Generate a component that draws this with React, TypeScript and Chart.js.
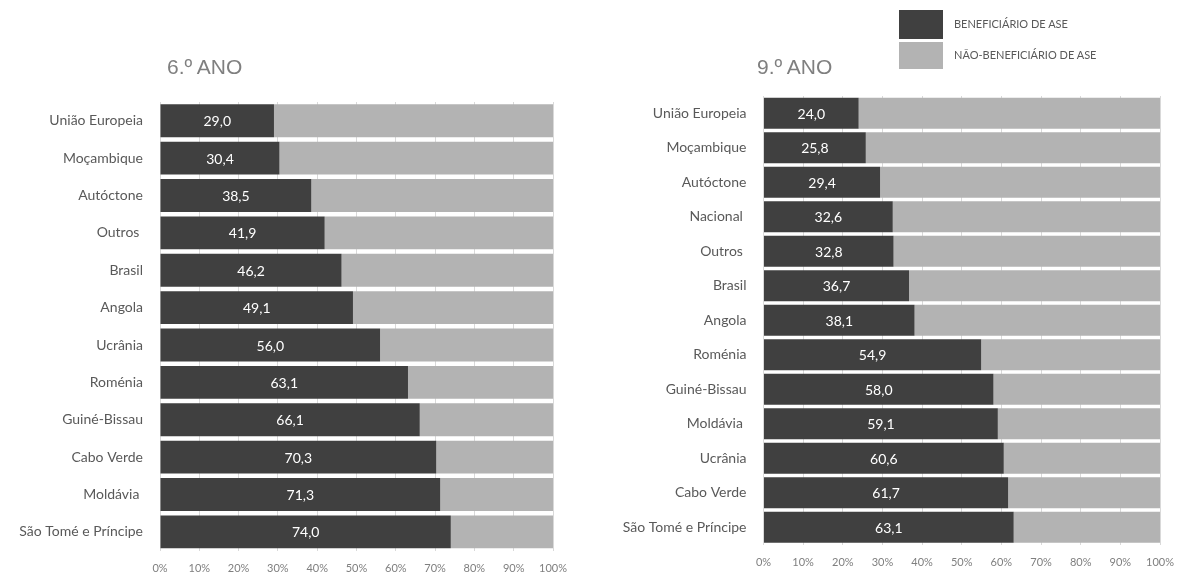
import React, { useEffect, useRef } from "react";
import { Chart, registerables } from "chart.js";

Chart.register(...registerables);

// ---------- DATA ----------
const categories6 = [
  "União Europeia",
  "Moçambique",
  "Autóctone",
  "Outros ",
  "Brasil",
  "Angola",
  "Ucrânia",
  "Roménia",
  "Guiné-Bissau",
  "Cabo Verde",
  "Moldávia ",
  "São Tomé e Príncipe",
];
const beneficiario6 = [29.0, 30.4, 38.5, 41.9, 46.2, 49.1, 56.0, 63.1, 66.1, 70.3, 71.3, 74.0];
const naoBeneficiario6 = [71.0, 69.6, 61.5, 58.1, 53.8, 50.9, 44.0, 36.9, 33.9, 29.7, 28.7, 26.0];

const categories9 = [
  "União Europeia",
  "Moçambique",
  "Autóctone",
  "Nacional ",
  "Outros ",
  "Brasil",
  "Angola",
  "Roménia",
  "Guiné-Bissau",
  "Moldávia ",
  "Ucrânia",
  "Cabo Verde",
  "São Tomé e Príncipe",
];
const beneficiario9 = [24.0, 25.8, 29.4, 32.6, 32.8, 36.7, 38.1, 54.9, 58.0, 59.1, 60.6, 61.7, 63.1];
const naoBeneficiario9 = [76.0, 74.2, 70.6, 67.4, 67.2, 63.3, 61.9, 45.1, 42.0, 40.9, 39.4, 38.3, 36.9];

const seriesNames = ["BENEFICIÁRIO DE ASE", "NÃO-BENEFICIÁRIO DE ASE"];
const panelTitles = ["6.º ANO", "9.º ANO"];

// ---------- STYLE ----------
const DARK = "#404040";
const LIGHT = "#b3b3b3";
const GRID = "#d9d9d9";
const FONT = "Lato, 'Open Sans', sans-serif";
const XH = 24;

const valueLabels = {
  id: "valueLabels",
  afterDatasetsDraw(chart: any) {
    const ctx = chart.ctx;
    const meta = chart.getDatasetMeta(0);
    const data = chart.data.datasets[0].data as number[];
    ctx.save();
    ctx.font = `14px ${FONT}`;
    ctx.fillStyle = "#ffffff";
    ctx.textAlign = "center";
    ctx.textBaseline = "middle";
    meta.data.forEach((bar: any, i: number) => {
      const p = bar.getProps(["x", "y", "base"], true);
      ctx.fillText(data[i].toFixed(1).replace(".", ","), (p.x + p.base) / 2, p.y + 1);
    });
    ctx.restore();
  },
};

type PanelProps = {
  labels: string[];
  benef: number[];
  nao: number[];
  left: number;
  width: number;
  top: number;
  bottom: number;
  plotLeft: number;
  plotRight: number;
  barPct: number;
};

function Panel({ labels, benef, nao, left, width, top, bottom, plotLeft, plotRight, barPct }: PanelProps) {
  const ref = useRef<HTMLCanvasElement>(null);
  useEffect(() => {
    if (!ref.current) return;
    const chart = new Chart(ref.current, {
      type: "bar",
      data: {
        labels,
        datasets: [
          {
            label: seriesNames[0],
            data: benef,
            backgroundColor: DARK,
            barPercentage: barPct,
            categoryPercentage: 1,
          },
          {
            label: seriesNames[1],
            data: nao,
            backgroundColor: LIGHT,
            barPercentage: barPct,
            categoryPercentage: 1,
          },
        ],
      },
      options: {
        indexAxis: "y",
        responsive: false,
        maintainAspectRatio: false,
        animation: false,
        layout: {
          padding: { top, right: left + width - plotRight, left: 0, bottom: 576 - bottom - XH },
        },
        plugins: {
          legend: { display: false },
          tooltip: { enabled: false },
          title: { display: false },
        },
        scales: {
          x: {
            stacked: true,
            min: 0,
            max: 100,
            grid: { color: GRID, lineWidth: 1, drawTicks: false },
            border: { display: false },
            ticks: {
              stepSize: 10,
              callback: (v: any) => v + "%",
              font: { family: FONT, size: 11 },
              color: "#7f7f7f",
              padding: 11,
              maxRotation: 0,
              autoSkip: false,
            },
            afterFit: (s: any) => {
              s.height = XH;
              s.paddingLeft = 0;
              s.paddingRight = 0;
            },
          },
          y: {
            stacked: true,
            grid: { display: false, drawTicks: false },
            border: { display: false },
            ticks: {
              font: { family: FONT, size: 14 },
              color: "#595959",
              padding: 17,
              autoSkip: false,
            },
            afterFit: (s: any) => {
              s.width = plotLeft - left;
            },
          },
        },
      },
      plugins: [valueLabels],
    });
    return () => chart.destroy();
  }, []);
  return (
    <canvas
      ref={ref}
      width={width}
      height={576}
      style={{ position: "absolute", left, top: 0, width, height: 576 }}
    />
  );
}

export default function App() {
  const titleStyle: React.CSSProperties = {
    position: "absolute",
    top: 56,
    fontFamily: "'Liberation Sans', Arial, sans-serif",
    fontSize: 21,
    lineHeight: "21px",
    color: "#7f7f7f",
    whiteSpace: "nowrap",
  };
  const legText: React.CSSProperties = {
    position: "absolute",
    left: 954,
    fontFamily: FONT,
    fontSize: 11,
    lineHeight: "14px",
    color: "#595959",
    whiteSpace: "nowrap",
  };
  return (
    <div style={{ position: "absolute", left: 0, top: 0, width: 1177, height: 576, background: "#fff", overflow: "hidden" }}>
      <Panel
        labels={categories6}
        benef={beneficiario6}
        nao={naoBeneficiario6}
        left={0}
        width={590}
        top={102}
        bottom={551.5}
        plotLeft={160}
        plotRight={553}
        barPct={0.88}
      />
      <Panel
        labels={categories9}
        benef={beneficiario9}
        nao={naoBeneficiario9}
        left={590}
        width={587}
        top={96}
        bottom={544.5}
        plotLeft={763.5}
        plotRight={1160}
        barPct={0.9}
      />
      <div style={{ ...titleStyle, left: 167 }}>{panelTitles[0]}</div>
      <div style={{ ...titleStyle, left: 757 }}>{panelTitles[1]}</div>
      <div style={{ position: "absolute", left: 899, top: 10, width: 44, height: 29, background: DARK }} />
      <div style={{ position: "absolute", left: 899, top: 42, width: 44, height: 27, background: LIGHT }} />
      <div style={{ ...legText, top: 17 }}>{seriesNames[0]}</div>
      <div style={{ ...legText, top: 48 }}>{seriesNames[1]}</div>
    </div>
  );
}
